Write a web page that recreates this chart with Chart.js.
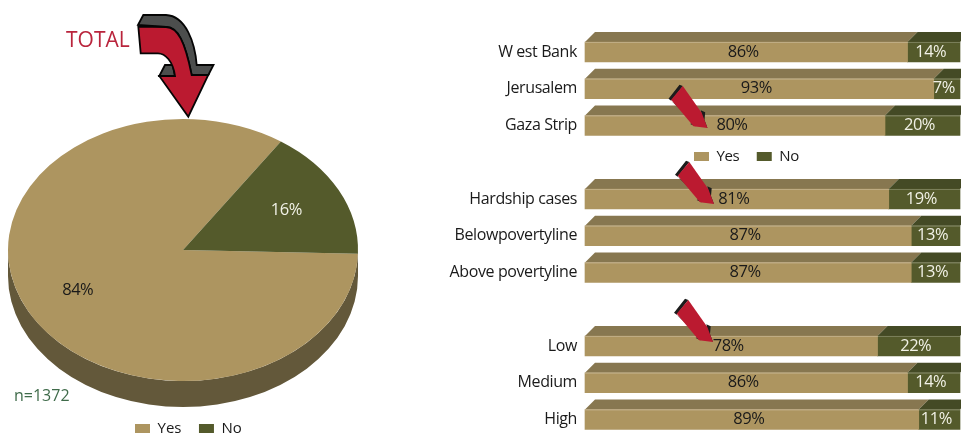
<!DOCTYPE html>
<html><head><meta charset="utf-8">
<script src="https://cdn.jsdelivr.net/npm/chart.js@4/dist/chart.umd.min.js"></script>
<style>
html,body{margin:0;padding:0;background:#fff;overflow:hidden;width:961px;height:435px}
canvas{position:absolute;top:0}
#pie{left:0}#bars{left:440px}
</style></head><body>
<canvas id="pie" width="440" height="435"></canvas>
<canvas id="bars" width="521" height="435"></canvas>
<script>
const pieLabels = ['Yes', 'No'];
const pieValues = [84, 16];
const categories = ['W est Bank', 'Jerusalem', 'Gaza Strip', '', 'Hardship cases', 'Belowpovertyline', 'Above povertyline', '', 'Low', 'Medium', 'High'];
const yesValues = [86, 93, 80, null, 81, 87, 87, null, 78, 86, 89];
const noValues = [14, 7, 20, null, 19, 13, 13, null, 22, 14, 11];
const sampleNote = 'n=1372';
const pieTitle = 'TOTAL';

const TAN = '#ad9560', OLIVE = '#545a2b', TAN_TOP = '#877750', OLIVE_TOP = '#444a25', PIE_SIDE = '#63583a';
const FONT = '"Open Sans", sans-serif';
Chart.defaults.animation = false;

function poly(ctx, pts, ox, oy, fill, stroke, lw) {
  ctx.beginPath();
  pts.forEach((p, i) => i ? ctx.lineTo(ox + p[0], oy + p[1]) : ctx.moveTo(ox + p[0], oy + p[1]));
  ctx.closePath();
  if (fill) { ctx.fillStyle = fill; ctx.fill(); }
  if (stroke) { ctx.strokeStyle = stroke; ctx.lineWidth = lw || 1; ctx.stroke(); }
}
function text(ctx, s, x, y, color, size, align, spacing) {
  ctx.save();
  ctx.font = size + 'px ' + FONT;
  ctx.fillStyle = color;
  ctx.textAlign = align || 'center';
  ctx.textBaseline = 'middle';
  ctx.letterSpacing = (spacing || 0) + 'px';
  ctx.fillText(s, x, y);
  ctx.restore();
}
function placeLegend(chart, x, y) {
  const l = chart.legend, p = l.options.labels.padding;
  l.left = x - p; l.right = chart.width; l.top = y - p; l.bottom = chart.height;
}

/* ---------- pie ---------- */
const PIE_CY = 250, PIE_RX = 175, PIE_RY = 131, PIE_DEPTH = 26;
const piePlugin = {
  id: 'piePlugin',
  afterLayout(chart) { placeLegend(chart, 135, 421); },
  beforeDatasetsDraw(chart) {
    const ctx = chart.ctx, a = chart.getDatasetMeta(0).data[0];
    ctx.save();
    ctx.beginPath();
    ctx.ellipse(a.x, PIE_CY + PIE_DEPTH, PIE_RX, PIE_RY, 0, 0, Math.PI, false);
    ctx.lineTo(a.x - PIE_RX, PIE_CY);
    ctx.ellipse(a.x, PIE_CY, PIE_RX, PIE_RY, 0, Math.PI, 0, true);
    ctx.closePath();
    ctx.fillStyle = PIE_SIDE;
    ctx.fill();
    ctx.translate(a.x, PIE_CY);
    ctx.scale(1, PIE_RY / PIE_RX);
    ctx.translate(-a.x, -a.y);
  },
  afterDatasetsDraw(chart) {
    const ctx = chart.ctx;
    ctx.restore();
    chart.getDatasetMeta(0).data.forEach((a, i) => {
      const mid = (a.startAngle + a.endAngle) / 2;
      const x = a.x + Math.cos(mid) * PIE_RX * 0.67;
      const y = PIE_CY + Math.sin(mid) * PIE_RY * 0.67;
      text(ctx, pieValues[i] + '%', x - 1, y, i ? '#f1f1e6' : '#1a1a1a', 16.5, 'center', -0.5);
    });
    text(ctx, pieTitle, 66, 41, '#b9243c', 21, 'left', 0);
    text(ctx, sampleNote, 14, 396, '#3f6b4a', 16, 'left', 0);
    drawBigArrow(ctx);
  }
};
function drawBigArrow(ctx) {
  ctx.save();
  ctx.lineJoin = 'miter';
  ctx.lineWidth = 1.8;
  ctx.strokeStyle = '#050505';
  // extruded top
  ctx.beginPath();
  ctx.moveTo(138, 25); ctx.lineTo(143.3, 15); ctx.lineTo(166, 15);
  ctx.bezierCurveTo(186, 16, 195, 43, 196.7, 65);
  ctx.lineTo(213.5, 65); ctx.lineTo(208.3, 75); ctx.lineTo(191.7, 75);
  ctx.bezierCurveTo(185, 42, 178, 27, 166, 27);
  ctx.closePath();
  ctx.fillStyle = '#4c4e4d'; ctx.fill(); ctx.stroke();
  // lower-left flap
  poly(ctx, [[159.3, 76], [165, 65], [172.7, 65], [175, 76]], 0, 0, '#4c4e4d', '#050505', 1.8);
  // red face
  ctx.beginPath();
  ctx.moveTo(138.3, 26.5);
  ctx.lineTo(166, 27);
  ctx.bezierCurveTo(178, 27, 185, 42, 191.7, 75);
  ctx.lineTo(208.3, 75); ctx.lineTo(188.3, 116.7); ctx.lineTo(159.3, 76); ctx.lineTo(175, 76);
  ctx.bezierCurveTo(173, 61, 165, 53.3, 158, 53.3);
  ctx.lineTo(140.7, 53.3);
  ctx.closePath();
  ctx.fillStyle = '#bb1a30'; ctx.fill(); ctx.stroke();
  ctx.restore();
}
new Chart(document.getElementById('pie'), {
  type: 'pie',
  data: { labels: pieLabels, datasets: [{ data: pieValues, backgroundColor: [TAN, OLIVE], borderWidth: 0, radius: PIE_RX, clip: false }] },
  options: {
    responsive: false, devicePixelRatio: 1, rotation: 91.6,
    layout: { padding: { left: 0, right: 74, top: 0, bottom: 0 } },
    plugins: {
      tooltip: { enabled: false },
      legend: { position: 'bottom', align: 'start', maxHeight: 1,
        labels: { boxWidth: 15, boxHeight: 9, padding: 17.5, color: '#1a1a1a', font: { family: FONT, size: 15 } } }
    }
  },
  plugins: [piePlugin]
});

/* ---------- bars ---------- */
const ARROW_TIPS = [[267.5, 128], [274, 204], [273, 342]];
function drawSmallArrow(ctx, ox, oy) {
  poly(ctx, [[-39, -29.3], [-28, -43.3], [-24.7, -42], [-36.3, -27.3], [-14, -5.7], [-17.3, -4], [-12.3, -1.7], [-5, -10], [-6.7, -17.7], [-2.3, -15.7], [-3, -8], [0, 0]], ox, oy, '#1c1c1c');
  poly(ctx, [[-36.3, -28.3], [-24.7, -42], [-5.7, -15], [0, 0], [-14, -1.7]], ox, oy, '#bb1a30');
}
const barPlugin = {
  id: 'barPlugin',
  afterLayout(chart) { placeLegend(chart, 254, 149); },
  beforeDraw(chart) { chart.ctx.letterSpacing = '-0.4px'; },
  beforeDatasetsDraw(chart) {
    const ctx = chart.ctx;
    [TAN_TOP, OLIVE_TOP].forEach((c, d) => {
      chart.getDatasetMeta(d).data.forEach((b, i) => {
        if (!categories[i]) return;
        const top = b.y - b.height / 2;
        poly(ctx, [[b.base, top], [b.base + 10, top - 10], [b.x + 10, top - 10], [b.x, top]], 0, 0, c);
      });
    });
  },
  afterDatasetsDraw(chart) {
    const ctx = chart.ctx;
    chart.getDatasetMeta(0).data.forEach((b, i) => {
      if (yesValues[i] == null) return;
      const n = chart.getDatasetMeta(1).data[i];
      ctx.fillStyle = 'rgba(255,255,255,.22)';
      ctx.fillRect(b.base, b.y - b.height / 2, n.x - b.base, 1);
      text(ctx, yesValues[i] + '%', (b.base + b.x) / 2 - 3, b.y, '#1a1a1a', 16.5, 'center', -0.5);
      text(ctx, noValues[i] + '%', (n.base + n.x) / 2 - 3, n.y, '#f1f1e6', 16.5, 'center', -0.5);
    });
    ARROW_TIPS.forEach(t => drawSmallArrow(ctx, t[0], t[1]));
  }
};
new Chart(document.getElementById('bars'), {
  type: 'bar',
  data: { labels: categories, datasets: [
    { label: 'Yes', data: yesValues, backgroundColor: TAN, barThickness: 20, clip: false },
    { label: 'No', data: noValues, backgroundColor: OLIVE, barThickness: 20, clip: false }
  ] },
  options: {
    indexAxis: 'y', responsive: false, devicePixelRatio: 1,
    layout: { padding: { top: 51, bottom: 15.5, right: 1, left: 0 } },
    scales: {
      x: { stacked: true, min: 0, max: 100, display: false },
      y: { stacked: true, offset: false, border: { display: false }, grid: { display: false, drawTicks: false },
        afterFit(s) { s.width = 145; s.paddingTop = 0; s.paddingBottom = 0; },
        ticks: { autoSkip: false, padding: 8, color: '#1a1a1a', font: { family: FONT, size: 16 } } }
    },
    plugins: {
      tooltip: { enabled: false },
      legend: { position: 'top', align: 'start', maxHeight: 1,
        labels: { boxWidth: 15, boxHeight: 9, padding: 17.5, color: '#1a1a1a', font: { family: FONT, size: 15 } } }
    }
  },
  plugins: [barPlugin]
});
</script>
</body></html>
